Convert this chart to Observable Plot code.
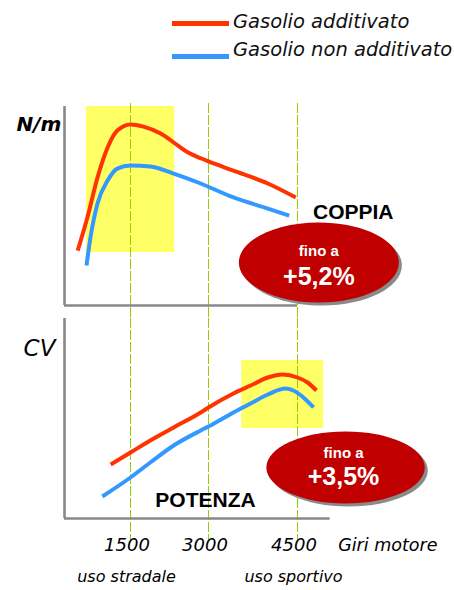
<!DOCTYPE html>
<html>
<head>
<meta charset="utf-8">
<script src="https://cdn.jsdelivr.net/npm/d3@7"></script>
<script src="https://cdn.jsdelivr.net/npm/@observablehq/plot@0.6"></script>
<style>
  body { margin: 0; background: #fff; }
  #wrap { position: relative; width: 454px; height: 590px; overflow: hidden; background: #fff; }
  #wrap > * { position: absolute; left: 0; }
  .legtext { font-family: "DejaVu Sans", sans-serif; font-style: italic; font-size: 19.5px; line-height: 19.5px; color: #111; white-space: nowrap; }
</style>
</head>
<body>
<div id="wrap"></div>
<script>
// ---------- data ----------
const seriesNames = ["Gasolio additivato", "Gasolio non additivato"];
const seriesColors = ["#ff3300", "#3399ff"];
const xTicks = [1500, 3000, 4500];
const axisTitle = "Giri motore";
const usageLabels = ["uso stradale", "uso sportivo"];
const usageRpm = [1500, 4500];
const unitLabels = ["N/m", "CV"];
const panelLabels = ["COPPIA", "POTENZA"];
const gainPrefix = "fino a";
const gainLabels = ["+5,2%", "+3,5%"];

// Coppia (torque), relative units 0-100
const torqueAddRpm  = [300, 520, 750, 980, 1200, 1500, 1750, 2080, 2400, 2600, 2850, 3000, 3420, 4000, 4470];
const torqueAdd     = [27.6, 44.2, 64.3, 79.4, 87.9, 91.0, 89.9, 86.4, 80.6, 77.0, 74.0, 72.4, 67.8, 61.3, 54.3];
const torqueBaseRpm = [500, 590, 750, 980, 1200, 1500, 1880, 2330, 2850, 3420, 4000, 4360];
const torqueBase    = [20.1, 34.2, 51.3, 62.8, 68.8, 70.4, 69.8, 66.3, 61.3, 54.3, 48.7, 45.2];

// Potenza (power), relative units 0-100
const powerAddRpm  = [1050, 1500, 1880, 2330, 2850, 3000, 3420, 3710, 4000, 4250, 4500, 4670, 4820];
const powerAdd     = [27, 33, 39, 45.5, 53, 55.5, 62.5, 66.5, 70.5, 72, 70.5, 68, 64];
const powerBaseRpm = [860, 1500, 1880, 2330, 2850, 3000, 3420, 3710, 4000, 4300, 4430, 4600, 4770];
const powerBase    = [11, 20.5, 28, 36.5, 44, 46, 53, 57.5, 62, 65, 64, 60.5, 55.5];

// highlighted ranges [rpm from, rpm to, value from, value to]
const torqueBand = [500, 2350, 26.6, 100];
const powerBand  = [3560, 4940, 45, 79];
// annotation anchors [rpm, value]
const torqueGainAt = [4860, 21.6];
const powerGainAt  = [5310, 25.5];
const torqueLabelAt = [5440, 47];
const powerLabelAt  = [2942, 9.25];
const torqueAxisEnd = 4500;
const powerAxisEnd  = 5050;

// ---------- helpers ----------
const wrap = document.getElementById("wrap");
const xDomain = [0, 1500, 3000, 4500];
const xRange = [64, 130, 208, 297];
const ITALIC = "DejaVu Sans, sans-serif";
const BOLD = "Liberation Sans, Arial, sans-serif";
const GUIDE = {stroke: "#9acd00", strokeWidth: 1, strokeDasharray: "10,2"};

function ellipseSymbol(aspect) {
  return {
    draw(ctx, size) {
      const ry = Math.sqrt(size / Math.PI), rx = ry * aspect, k = 0.5522847;
      ctx.moveTo(rx, 0);
      ctx.bezierCurveTo(rx, k * ry, k * rx, ry, 0, ry);
      ctx.bezierCurveTo(-k * rx, ry, -rx, k * ry, -rx, 0);
      ctx.bezierCurveTo(-rx, -k * ry, -k * rx, -ry, 0, -ry);
      ctx.bezierCurveTo(k * rx, -ry, rx, -k * ry, rx, 0);
      ctx.closePath();
    }
  };
}

function toRows(rpm, vals, s) { return rpm.map((r, i) => ({rpm: r, v: vals[i], s})); }

// ---------- legend ----------
seriesNames.forEach((name, i) => {
  const sw = document.createElement("div");
  sw.style.cssText = `left:172px;top:${21 + i * 33}px;width:57px;height:5px;background:${seriesColors[i]};`;
  wrap.appendChild(sw);
  const tx = document.createElement("div");
  tx.className = "legtext";
  tx.style.left = "233px";
  tx.style.top = (11.5 + i * 28) + "px";
  tx.textContent = name;
  wrap.appendChild(tx);
});

// ---------- top panel: coppia ----------
const torqueData = [
  ...toRows(torqueAddRpm, torqueAdd, seriesNames[0]),
  ...toRows(torqueBaseRpm, torqueBase, seriesNames[1])
];
const topPlot = Plot.plot({
  width: 454, height: 258,
  marginTop: 43, marginBottom: 0, marginLeft: 64, marginRight: 17,
  x: {type: "linear", domain: xDomain, range: xRange, axis: null},
  y: {type: "linear", domain: [0, 100], range: [245, 46], axis: null},
  color: {domain: seriesNames, range: seriesColors},
  marks: [
    Plot.rect([torqueBand], {x1: d => d[0], x2: d => d[1], y1: d => d[2], y2: d => d[3], fill: "#ffff66"}),
    Plot.ruleX(xTicks, GUIDE),
    Plot.ruleX([0], {y1: 0, y2: 100, stroke: "#888", strokeWidth: 2.6}),
    Plot.ruleY([0], {x1: 0, x2: torqueAxisEnd, stroke: "#888", strokeWidth: 2.6}),
    Plot.line(torqueData, {x: "rpm", y: "v", z: "s", stroke: "s", strokeWidth: 4, curve: "monotone-x", strokeLinecap: "butt"}),
    Plot.text([unitLabels[0]], {frameAnchor: "top-left", text: d => d, dx: -25.5, dy: 13, textAnchor: "middle", fontFamily: ITALIC, fontStyle: "italic", fontWeight: "bold", fontSize: 20, fill: "#000"}),
    Plot.text([panelLabels[0]], {x: () => torqueLabelAt[0], y: () => torqueLabelAt[1], text: d => d, fontFamily: BOLD, fontWeight: "bold", fontSize: 21, fill: "#000"}),
    Plot.dot([torqueGainAt], {x: d => d[0], y: d => d[1], r: 40, symbol: ellipseSymbol(2), fill: "#8a8a8a", dx: 3, dy: 3}),
    Plot.dot([torqueGainAt], {x: d => d[0], y: d => d[1], r: 40, symbol: ellipseSymbol(2), fill: "#c00000"}),
    Plot.text([gainPrefix], {x: () => torqueGainAt[0], y: () => torqueGainAt[1], text: d => d, dy: -11, fontFamily: BOLD, fontWeight: "bold", fontSize: 15, fill: "#fff"}),
    Plot.text([gainLabels[0]], {x: () => torqueGainAt[0], y: () => torqueGainAt[1], text: d => d, dy: 14, fontFamily: BOLD, fontWeight: "bold", fontSize: 25, fill: "#fff"})
  ]
});
topPlot.style.top = "60px";
wrap.appendChild(topPlot);

// ---------- bottom panel: potenza ----------
const powerData = [
  ...toRows(powerAddRpm, powerAdd, seriesNames[0]),
  ...toRows(powerBaseRpm, powerBase, seriesNames[1])
];
const bottomPlot = Plot.plot({
  width: 454, height: 272,
  marginTop: 0, marginBottom: 50, marginLeft: 64, marginRight: 17,
  x: {type: "linear", domain: xDomain, range: xRange, axis: null},
  y: {type: "linear", domain: [0, 100], range: [200, 0], axis: null},
  color: {domain: seriesNames, range: seriesColors},
  marks: [
    Plot.rect([powerBand], {x1: d => d[0], x2: d => d[1], y1: d => d[2], y2: d => d[3], fill: "#ffff66"}),
    Plot.ruleX(xTicks, GUIDE),
    Plot.ruleX([0], {y1: 0, y2: 100, stroke: "#888", strokeWidth: 2.6}),
    Plot.ruleY([0], {x1: 0, x2: powerAxisEnd, stroke: "#888", strokeWidth: 2.6}),
    Plot.line(powerData, {x: "rpm", y: "v", z: "s", stroke: "s", strokeWidth: 4, curve: "monotone-x", strokeLinecap: "butt"}),
    Plot.text([unitLabels[1]], {frameAnchor: "top-left", text: d => d, dx: -25, dy: 21, textAnchor: "middle", fontFamily: ITALIC, fontStyle: "italic", fontSize: 23, fill: "#000"}),
    Plot.text([panelLabels[1]], {x: () => powerLabelAt[0], y: () => powerLabelAt[1], text: d => d, fontFamily: BOLD, fontWeight: "bold", fontSize: 21, fill: "#000"}),
    Plot.dot([powerGainAt], {x: d => d[0], y: d => d[1], r: 36, symbol: ellipseSymbol(2.2), fill: "#8a8a8a", dx: 3, dy: 3}),
    Plot.dot([powerGainAt], {x: d => d[0], y: d => d[1], r: 36, symbol: ellipseSymbol(2.2), fill: "#c00000"}),
    Plot.text([gainPrefix], {x: () => powerGainAt[0], y: () => powerGainAt[1], text: d => d, dx: -2, dy: -14, fontFamily: BOLD, fontWeight: "bold", fontSize: 15, fill: "#fff"}),
    Plot.text([gainLabels[1]], {x: () => powerGainAt[0], y: () => powerGainAt[1], text: d => d, dx: -2, dy: 9, fontFamily: BOLD, fontWeight: "bold", fontSize: 25, fill: "#fff"}),
    Plot.text(xTicks, {x: d => d, frameAnchor: "bottom", text: d => String(d), dx: -3.5, dy: 10, fontFamily: ITALIC, fontStyle: "italic", fontSize: 18, fill: "#000"}),
    Plot.text([axisTitle], {frameAnchor: "bottom-right", text: d => d, textAnchor: "end", dy: 10, fontFamily: ITALIC, fontStyle: "italic", fontSize: 17.5, fill: "#000"}),
    Plot.text(usageLabels, {x: (d, i) => usageRpm[i], frameAnchor: "bottom", text: d => d, dx: -4, dy: 41, fontFamily: ITALIC, fontStyle: "italic", fontSize: 16, fill: "#000"})
  ]
});
bottomPlot.style.top = "318px";
wrap.appendChild(bottomPlot);
</script>
</body>
</html>
